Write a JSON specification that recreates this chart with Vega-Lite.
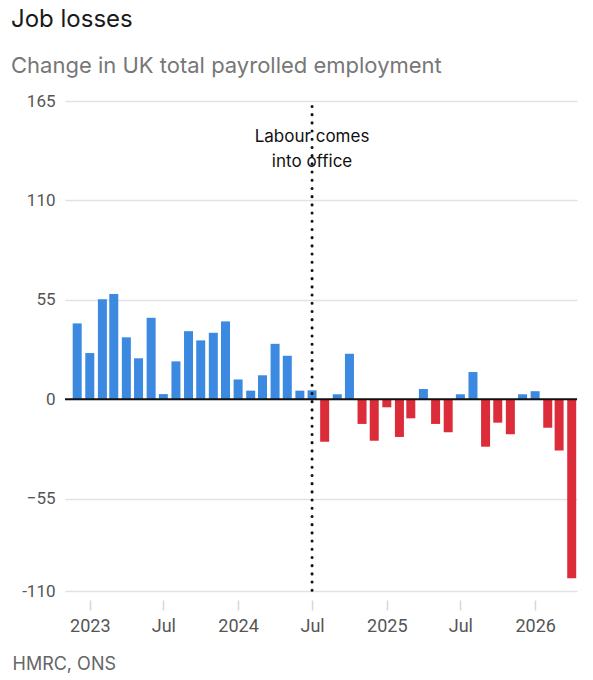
{
  "$schema": "https://vega.github.io/schema/vega-lite/v6.json",
  "autosize": {"type": "none"},
  "width": 512,
  "height": 490,
  "padding": {"left": 65, "top": 101, "right": 16, "bottom": 89},
  "title": {
    "text": "Job losses",
    "subtitle": "Change in UK total payrolled employment",
    "anchor": "start",
    "dx": -1,
    "offset": 15,
    "font": "Inter",
    "fontSize": 24,
    "fontWeight": "normal",
    "color": "#1a1a1a",
    "subtitleFont": "Inter",
    "subtitleFontSize": 22,
    "subtitleColor": "#777777",
    "subtitlePadding": 24
  },
  "data": {
    "values": [
      {"date": "2022-12-01", "value": 42.0},
      {"date": "2023-01-01", "value": 25.6},
      {"date": "2023-02-01", "value": 55.4},
      {"date": "2023-03-01", "value": 58.3},
      {"date": "2023-04-01", "value": 34.3},
      {"date": "2023-05-01", "value": 22.7},
      {"date": "2023-06-01", "value": 45.1},
      {"date": "2023-07-01", "value": 2.9},
      {"date": "2023-08-01", "value": 21.0},
      {"date": "2023-09-01", "value": 37.7},
      {"date": "2023-10-01", "value": 32.6},
      {"date": "2023-11-01", "value": 36.8},
      {"date": "2023-12-01", "value": 43.1},
      {"date": "2024-01-01", "value": 11.0},
      {"date": "2024-02-01", "value": 4.8},
      {"date": "2024-03-01", "value": 13.3},
      {"date": "2024-04-01", "value": 30.7},
      {"date": "2024-05-01", "value": 24.1},
      {"date": "2024-06-01", "value": 4.8},
      {"date": "2024-07-01", "value": 5.0},
      {"date": "2024-08-01", "value": -23.5},
      {"date": "2024-09-01", "value": 2.8},
      {"date": "2024-10-01", "value": 25.2},
      {"date": "2024-11-01", "value": -13.6},
      {"date": "2024-12-01", "value": -22.9},
      {"date": "2025-01-01", "value": -4.4},
      {"date": "2025-02-01", "value": -20.8},
      {"date": "2025-03-01", "value": -10.5},
      {"date": "2025-04-01", "value": 5.7},
      {"date": "2025-05-01", "value": -13.6},
      {"date": "2025-06-01", "value": -18.2},
      {"date": "2025-07-01", "value": 2.8},
      {"date": "2025-08-01", "value": 15.1},
      {"date": "2025-09-01", "value": -26.2},
      {"date": "2025-10-01", "value": -12.9},
      {"date": "2025-11-01", "value": -19.3},
      {"date": "2025-12-01", "value": 2.8},
      {"date": "2026-01-01", "value": 4.5},
      {"date": "2026-02-01", "value": -15.7},
      {"date": "2026-03-01", "value": -28.3},
      {"date": "2026-04-01", "value": -98.9}
    ]
  },
  "encoding": {
    "x": {
      "field": "date",
      "type": "temporal",
      "scale": {
        "type": "utc",
        "padding": 0,
        "domain": [
          {"year": 2022, "month": "nov", "date": 1, "utc": true},
          {"year": 2026, "month": "apr", "date": 14, "utc": true}
        ]
      },
      "axis": {
        "values": [
          {"year": 2023, "month": "jan", "date": 1, "utc": true},
          {"year": 2023, "month": "jul", "date": 1, "utc": true},
          {"year": 2024, "month": "jan", "date": 1, "utc": true},
          {"year": 2024, "month": "jul", "date": 1, "utc": true},
          {"year": 2025, "month": "jan", "date": 1, "utc": true},
          {"year": 2025, "month": "jul", "date": 1, "utc": true},
          {"year": 2026, "month": "jan", "date": 1, "utc": true}
        ],
        "labelExpr": "utcFormat(datum.value, utcmonth(datum.value) == 0 ? '%Y' : '%b')",
        "grid": false,
        "domain": false,
        "offset": 9,
        "tickSize": 10,
        "tickWidth": 1.5,
        "tickColor": "#d6d6d6",
        "labelFont": "Roboto",
        "labelFontSize": 18,
        "labelColor": "#555555",
        "labelPadding": 7,
        "title": "HMRC, ONS",
        "titleFont": "Inter",
        "titleFontSize": 18,
        "titleFontWeight": "normal",
        "titleColor": "#666666",
        "titleAlign": "left",
        "titleBaseline": "alphabetic",
        "titleX": -53,
        "titleY": 69
      }
    },
    "y": {
      "field": "value",
      "type": "quantitative",
      "scale": {"domain": [-106, 165], "nice": false, "zero": false},
      "axis": {
        "values": [-106, -55, 0, 55, 110, 165],
        "labelExpr": "datum.value < -100 ? '-110' : datum.label",
        "title": null,
        "domain": false,
        "ticks": false,
        "gridColor": "#e2e2e2",
        "gridWidth": 1.5,
        "labelFont": "Roboto",
        "labelFontSize": 17,
        "labelColor": "#555555",
        "labelPadding": 10
      }
    }
  },
  "layer": [
    {
      "mark": {"type": "bar", "width": 9},
      "encoding": {
        "color": {
          "condition": {"test": "datum.value < 0", "value": "#dc2b39"},
          "value": "#3b89e1"
        }
      }
    },
    {
      "data": {"values": [{"value": 0}]},
      "mark": {"type": "rule", "color": "#111111", "strokeWidth": 2},
      "encoding": {
        "x": null,
        "y": {"field": "value", "type": "quantitative"}
      }
    },
    {
      "data": {"values": [{"date": "2024-07-01", "top": 162, "bottom": -107}]},
      "mark": {
        "type": "rule",
        "color": "#111111",
        "strokeWidth": 3,
        "strokeDash": [0.1, 8.1],
        "strokeCap": "round"
      },
      "encoding": {
        "y": {"field": "top", "type": "quantitative"},
        "y2": {"field": "bottom"}
      }
    },
    {
      "data": {"values": [{"date": "2024-07-01", "pos": 145, "label": "Labour comes\ninto office"}]},
      "mark": {
        "type": "text",
        "font": "Inter",
        "fontSize": 17,
        "color": "#111111",
        "align": "center",
        "baseline": "middle",
        "lineBreak": "\n",
        "lineHeight": 25
      },
      "encoding": {
        "y": {"field": "pos", "type": "quantitative"},
        "text": {"field": "label"}
      }
    }
  ],
  "config": {
    "view": {"stroke": null}
  }
}
